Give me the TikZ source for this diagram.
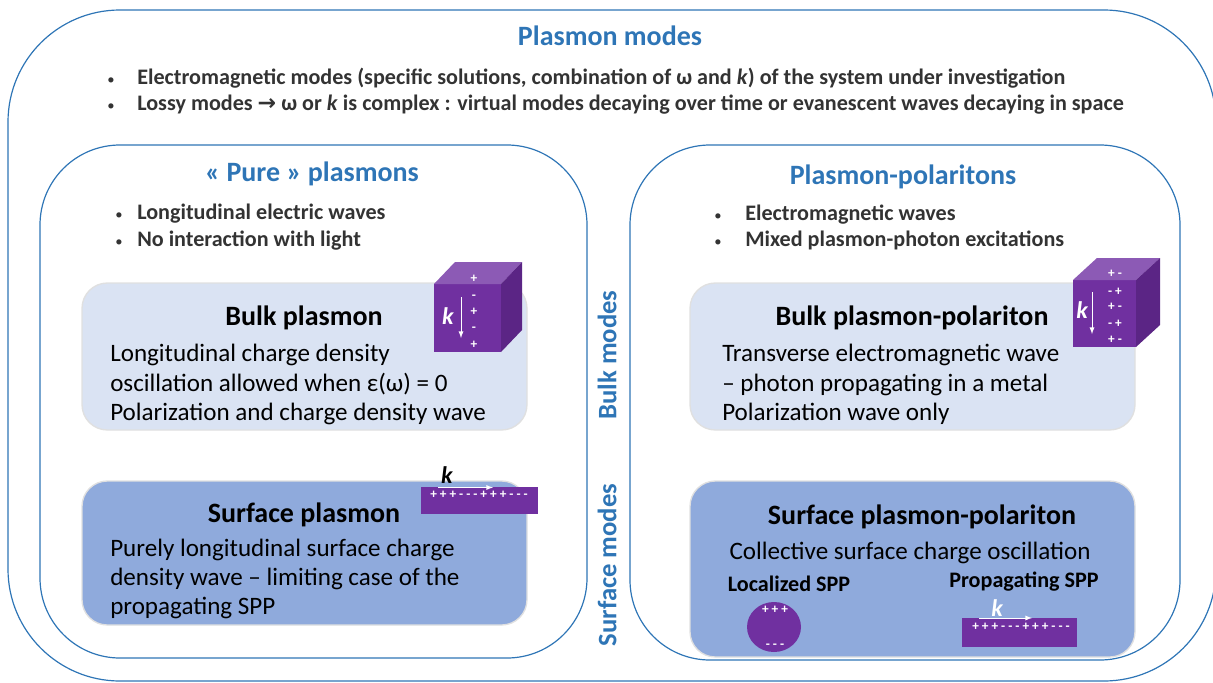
\documentclass[tikz,border=0pt]{standalone}
\usepackage{fontspec}
\setmainfont{Carlito}
\newfontfamily\arrowfont{DejaVu Sans}
\definecolor{hblue}{HTML}{2E75B6}
\definecolor{paleblue}{HTML}{DAE3F3}
\definecolor{midblue}{HTML}{8FAADC}
\definecolor{purp}{HTML}{7030A0}
\definecolor{purptop}{HTML}{8C5AB5}
\definecolor{purpside}{HTML}{5B2585}
\definecolor{bullettext}{HTML}{333333}
\tikzset{
  frame/.style={draw=hblue,line width=0.9pt,rounded corners=#1},
  modebox/.style={draw=black!12,line width=1pt,rounded corners=19pt},
  title/.style={font=\bfseries\fontsize{21}{25}\selectfont,text=hblue,anchor=base,inner sep=0},
  head/.style={font=\bfseries\fontsize{21}{25}\selectfont,anchor=base,inner sep=0},
  bul/.style={font=\bfseries\fontsize{16.6}{20}\selectfont,text=bullettext,anchor=base west,inner sep=0},
  dot/.style={font=\fontsize{11}{13}\selectfont,text=bullettext,anchor=base west,inner sep=0},
  body/.style={font=\fontsize{18.8}{22}\selectfont,anchor=base west,inner sep=0},
  small/.style={font=\bfseries\fontsize{16.6}{20}\selectfont,anchor=base,inner sep=0},
  side/.style={font=\bfseries\fontsize{20}{24}\selectfont,text=hblue,rotate=90,inner sep=0},
  sign/.style={font=\bfseries\fontsize{10}{12}\selectfont,text=white,inner sep=0},
  kk/.style={font=\bfseries\itshape\fontsize{18}{21}\selectfont,inner sep=0},
  karrow/.style={draw=white,line width=0.7pt,-latex}
}
\begin{document}
\begin{tikzpicture}[x=0.75pt,y=-0.75pt]
\useasboundingbox (0,0) rectangle (1213,682);
\clip (0,0) rectangle (1213,682);
\draw[frame=84pt] (8,10) rectangle (1216,681);
\draw[frame=60pt] (40,145) rectangle (587,658);
\draw[frame=60pt] (630,145) rectangle (1180,660);
\draw[modebox,fill=paleblue] (82,283) rectangle (527,430);
\draw[modebox,fill=paleblue] (690,283) rectangle (1135,430);
\draw[modebox,fill=midblue] (82,481) rectangle (527,625);
\draw[modebox,fill=midblue] (690,481) rectangle (1135,657);

\node[title] (pm) at (610,45) {Plasmon modes};
\node[dot] (d1) at (107,84) {•};
\node[bul] (m1) at (137,84) {Electromagnetic modes (specific solutions, combination of ω and \textit{k}) of the system under investigation};
\node[dot] (d2) at (107,110) {•};
\node[bul] (m2) at (137,110) {Lossy modes {\arrowfont\bfseries →} ω or \textit{k} is complex : virtual modes decaying over time or evanescent waves decaying in space};

\node[title] (pp) at (312,181) {« Pure » plasmons};
\node[dot] (d3) at (115,219) {•};
\node[bul] (p1) at (137,219) {Longitudinal electric waves};
\node[dot] (d4) at (115,246) {•};
\node[bul] (p2) at (137,246) {No interaction with light};

\node[title] (po) at (903,184) {Plasmon-polaritons};
\node[dot] (d5) at (714,220) {•};
\node[bul] (q1) at (745,220) {Electromagnetic waves};
\node[dot] (d6) at (714,246) {•};
\node[bul] (q2) at (745,246) {Mixed plasmon-photon excitations};

\node[side] (bm) at (607,355) {Bulk modes};
\node[side] (sm) at (607,565) {Surface modes};

\node[head] (bp) at (304,325) {Bulk plasmon};
\node[body] (bp1) at (110,361) {Longitudinal charge density};
\node[body] (bp2) at (110,391) {oscillation allowed when ε(ω) = 0};
\node[body] (bp3) at (110,420) {Polarization and charge density wave};

\node[head] (bq) at (912,325) {Bulk plasmon-polariton};
\node[body] (bq1) at (722,361) {Transverse electromagnetic wave};
\node[body] (bq2) at (722,391) {– photon propagating in a metal};
\node[body] (bq3) at (722,420) {Polarization wave only};

\node[head] (sp) at (304,522) {Surface plasmon};
\node[body] (sp1) at (110,556) {Purely longitudinal surface charge};
\node[body] (sp2) at (110,585) {density wave – limiting case of the};
\node[body] (sp3) at (110,614) {propagating SPP};

\node[head] (sq) at (922,524) {Surface plasmon-polariton};
\node[body,anchor=base] (sq1) at (910,559) {Collective surface charge oscillation};
\node[small] (ls) at (789,591) {Localized SPP};
\node[small] (ps) at (1024,587) {Propagating SPP};

\fill[purp] (434,284) rectangle (501,352);
\fill[purptop] (434,284) -- (455,262) -- (522,262) -- (501,284) -- cycle;
\fill[purpside] (501,284) -- (522,262) -- (522,330) -- (501,352) -- cycle;
\node[sign] (c1) at (474,279) {+};
\node[sign] (c2) at (474,297) {-};
\node[sign] (c3) at (474,312) {+};
\node[sign] (c4) at (474,329) {-};
\node[sign] (c5) at (474,345) {+};
\node[kk,text=white] (k1) at (448,316) {k};
\draw[karrow] (461,297) -- (461,338);

\fill[purp] (1073,280) rectangle (1136,347);
\fill[purptop] (1073,280) -- (1097,258) -- (1160,258) -- (1136,280) -- cycle;
\fill[purpside] (1136,280) -- (1160,258) -- (1160,325) -- (1136,347) -- cycle;
\node[sign] (e1) at (1115,274) {+ -};
\node[sign] (e2) at (1115,292) {- +};
\node[sign] (e3) at (1115,307) {+ -};
\node[sign] (e4) at (1115,324) {- +};
\node[sign] (e5) at (1115,340) {+ -};
\node[kk,text=white] (k2) at (1082,310) {k};
\draw[karrow] (1092,292) -- (1092,334);

\fill[purp] (421,487) rectangle (538,514);
\node[sign] (w1) at (479,495) {+ + + - - - + + + - - -};
\node[kk] (k3) at (447,475) {k};
\draw[karrow] (438,487.5) -- (493,487.5);

\fill[purp] (774,627) ellipse (27 and 25);
\node[sign] (l1) at (775,610) {+ + +};
\node[sign] (l2) at (775,646) {- - -};

\fill[purp] (962,618) rectangle (1077,647);
\node[sign] (w2) at (1021,627) {+ + + - - - + + + - - -};
\node[kk,text=white] (k4) at (997,608) {k};
\draw[karrow] (979,618) -- (1032,618);
\end{tikzpicture}
\end{document}
